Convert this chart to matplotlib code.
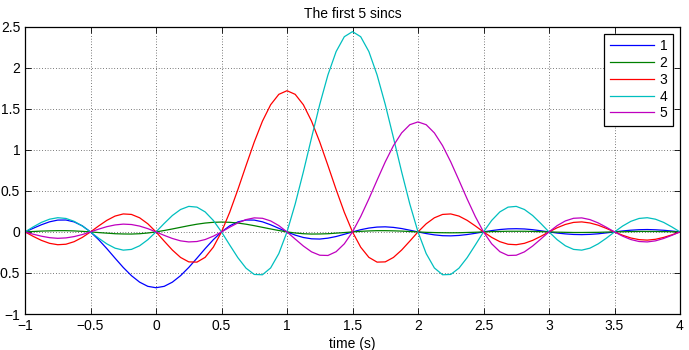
import numpy as np
import matplotlib
matplotlib.use("Agg")
import matplotlib.pyplot as plt

plt.rcParams['font.family'] = ['Liberation Sans', 'DejaVu Sans']

# time axis, 1/16 s steps from -1 to 4
t = np.linspace(-1, 4, 81)

# values, one list per sinc
sinc1 = [0, 0.044, 0.087, 0.123, 0.144, 0.145, 0.122, 0.074, 0, -0.095, -0.204, -0.320, -0.433, -0.533, -0.612, -0.663,
         -0.680, -0.663, -0.612, -0.533, -0.433, -0.320, -0.204, -0.095, 0, 0.074, 0.122, 0.145, 0.144, 0.123, 0.087, 0.044,
         0, -0.039, -0.068, -0.084, -0.087, -0.076, -0.056, -0.029, 0, 0.027, 0.047, 0.059, 0.062, 0.055, 0.041, 0.021,
         0, -0.020, -0.036, -0.046, -0.048, -0.043, -0.032, -0.017, 0, 0.016, 0.029, 0.037, 0.039, 0.036, 0.027, 0.014,
         0, -0.014, -0.024, -0.031, -0.033, -0.030, -0.023, -0.012, 0, 0.012, 0.021, 0.027, 0.029, 0.026, 0.020, 0.011, 0]
sinc2 = [0, 0.005, 0.010, 0.013, 0.015, 0.015, 0.012, 0.007, 0, -0.008, -0.015, -0.022, -0.025, -0.026, -0.022, -0.013,
         0, 0.017, 0.036, 0.056, 0.076, 0.094, 0.108, 0.117, 0.120, 0.117, 0.108, 0.094, 0.076, 0.056, 0.036, 0.017,
         0, -0.013, -0.022, -0.026, -0.025, -0.022, -0.015, -0.008, 0, 0.007, 0.012, 0.015, 0.015, 0.013, 0.010, 0.005,
         0, -0.005, -0.008, -0.010, -0.011, -0.010, -0.007, -0.004, 0, 0.004, 0.006, 0.008, 0.008, 0.008, 0.006, 0.003,
         0, -0.003, -0.005, -0.007, -0.007, -0.006, -0.005, -0.002, 0, 0.002, 0.004, 0.006, 0.006, 0.005, 0.004, 0.002, 0]
sinc3 = [0, -0.054, -0.103, -0.139, -0.156, -0.150, -0.119, -0.067, 0, 0.073, 0.141, 0.193, 0.219, 0.213, 0.172, 0.099,
         0, -0.112, -0.221, -0.311, -0.365, -0.368, -0.310, -0.186, 0, 0.239, 0.516, 0.809, 1.095, 1.349, 1.549, 1.676,
         1.720, 1.676, 1.549, 1.349, 1.095, 0.809, 0.516, 0.239, 0, -0.186, -0.310, -0.368, -0.365, -0.311, -0.221, -0.112,
         0, 0.099, 0.172, 0.213, 0.219, 0.193, 0.141, 0.073, 0, -0.067, -0.119, -0.150, -0.156, -0.139, -0.103, -0.054,
         0, 0.051, 0.091, 0.116, 0.122, 0.109, 0.082, 0.043, 0, -0.041, -0.074, -0.094, -0.100, -0.090, -0.067, -0.036, 0]
sinc4 = [0, 0.061, 0.116, 0.155, 0.173, 0.164, 0.129, 0.072, 0, -0.077, -0.146, -0.198, -0.222, -0.213, -0.169, -0.095,
         0, 0.103, 0.200, 0.273, 0.311, 0.302, 0.244, 0.140, 0, -0.159, -0.314, -0.442, -0.518, -0.522, -0.439, -0.264,
         0, 0.340, 0.732, 1.148, 1.553, 1.913, 2.197, 2.378, 2.440, 2.378, 2.197, 1.913, 1.553, 1.148, 0.732, 0.340,
         0, -0.264, -0.439, -0.522, -0.518, -0.442, -0.314, -0.159, 0, 0.140, 0.244, 0.302, 0.311, 0.273, 0.200, 0.103,
         0, -0.095, -0.169, -0.213, -0.222, -0.198, -0.146, -0.077, 0, 0.072, 0.129, 0.164, 0.173, 0.155, 0.116, 0.061, 0]
sinc5 = [0, -0.028, -0.052, -0.070, -0.078, -0.073, -0.057, -0.032, 0, 0.034, 0.064, 0.085, 0.095, 0.090, 0.071, 0.040,
         0, -0.042, -0.080, -0.109, -0.122, -0.117, -0.093, -0.052, 0, 0.057, 0.110, 0.150, 0.171, 0.166, 0.134, 0.077,
         0, -0.087, -0.172, -0.243, -0.284, -0.287, -0.241, -0.145, 0, 0.187, 0.402, 0.630, 0.853, 1.051, 1.206, 1.306,
         1.340, 1.306, 1.206, 1.051, 0.853, 0.630, 0.402, 0.187, 0, -0.145, -0.241, -0.287, -0.284, -0.243, -0.172, -0.087,
         0, 0.077, 0.134, 0.166, 0.171, 0.150, 0.110, 0.057, 0, -0.052, -0.093, -0.117, -0.122, -0.109, -0.080, -0.042, 0]

series = [sinc1, sinc2, sinc3, sinc4, sinc5]
names = ['1', '2', '3', '4', '5']
colors = ['#0000ff', '#008000', '#ff0000', '#00bfbf', '#bf00bf']

xticks = [-1, -0.5, 0, 0.5, 1, 1.5, 2, 2.5, 3, 3.5, 4]
xlabels = ['\u22121', '\u22120.5', '0', '0.5', '1', '1.5', '2', '2.5', '3', '3.5', '4']
yticks = [-1, -0.5, 0, 0.5, 1, 1.5, 2, 2.5]
ylabels = ['\u22121', '\u22120.5', '0', '0.5', '1', '1.5', '2', '2.5']

fig = plt.figure(figsize=(6.89, 3.5), dpi=100)
ax = fig.add_axes([25 / 689, 36 / 350, 655 / 689, 287.3 / 350])

for y, name, c in zip(series, names, colors):
    ax.plot(t, y, color=c, linewidth=0.9, label=name)

ax.set_xlim(-1, 4)
ax.set_ylim(-1, 2.5)
ax.set_xticks(xticks)
ax.set_xticklabels(xlabels)
ax.set_yticks(yticks)
ax.set_yticklabels(ylabels)
ax.tick_params(direction='in', length=4.5, width=0.6, top=True, right=True, labelsize=10, pad=3.5)
ax.grid(True, color='black', linestyle=(0, (1, 3)), linewidth=0.5)
for s in ax.spines.values():
    s.set_linewidth(0.9)

ax.set_title('The first 5 sincs', fontsize=10, pad=6)
ax.set_xlabel('time (s)', fontsize=10, labelpad=3)

leg = ax.legend(loc='upper right', fontsize=10, fancybox=False, framealpha=1,
                edgecolor='black', handlelength=3.2, handletextpad=0.4,
                labelspacing=0.2, borderpad=0.4)
leg.get_frame().set_linewidth(0.9)

fig.savefig('out.png', dpi=100)
